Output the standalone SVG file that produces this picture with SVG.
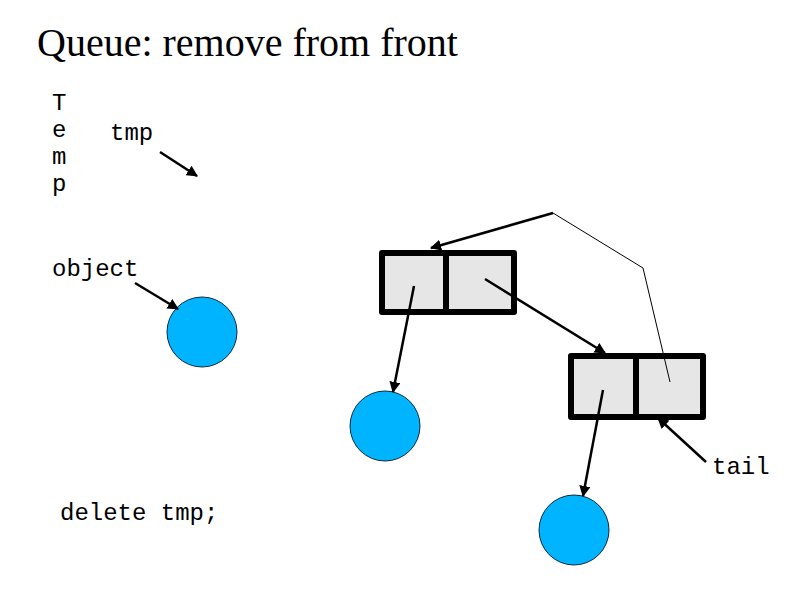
<svg xmlns="http://www.w3.org/2000/svg" width="794" height="595" viewBox="0 0 794 595">
<style>
.mono{font-family:"Liberation Mono","Courier New",monospace;font-size:24px;fill:#000}
.title{font-family:"Liberation Serif","Times New Roman",serif;font-size:40px;fill:#000}
.obj{fill:#00b4ff;stroke:#0a2a40;stroke-width:1}
.box{fill:#e6e6e6;stroke:#000;stroke-width:6;stroke-linejoin:round}
.div{stroke:#000;stroke-width:6}
.ptr{stroke:#000;stroke-width:2.5;fill:none;marker-end:url(#ah)}
.thin{stroke:#000;stroke-width:1;fill:none}
</style>
<defs>
<marker id="ah" viewBox="0 0 10 10" refX="9" refY="5" markerWidth="4.5" markerHeight="4.5" orient="auto" markerUnits="strokeWidth">
<path d="M0,0 L10,5 L0,10 z" fill="#000"/>
</marker>
</defs>
<rect width="794" height="595" fill="#fff"/>
<text class="title" x="37" y="56">Queue: remove from front</text>
<g id="temp-label">
<text class="mono" x="52" y="110">T</text>
<text class="mono" x="52" y="137">e</text>
<text class="mono" x="52" y="164">m</text>
<text class="mono" x="52" y="191">p</text>
</g>
<g id="tmp-label"><text class="mono" x="110" y="140">tmp</text></g>
<g id="object-label"><text class="mono" x="52" y="276">object</text></g>
<g id="tail-label"><text class="mono" x="712" y="474">tail</text></g>
<g id="delete-label"><text class="mono" x="60" y="520">delete tmp;</text></g>
<g id="object1"><circle class="obj" cx="202" cy="332" r="35"/></g>
<g id="object2"><circle class="obj" cx="385" cy="426" r="35"/></g>
<g id="object3"><circle class="obj" cx="574" cy="530" r="35"/></g>
<g id="node1">
<rect class="box" x="382" y="253" width="132" height="59"/>
<line class="div" x1="446" y1="253" x2="446" y2="312"/>
</g>
<g id="node2">
<rect class="box" x="571" y="356" width="132" height="61"/>
<line class="div" x1="636" y1="356" x2="636" y2="417"/>
</g>
<g id="connectors">
<line class="ptr" x1="160" y1="152" x2="197" y2="176"/>
<line class="ptr" x1="135" y1="283" x2="178" y2="309"/>
<line class="ptr" x1="414" y1="286" x2="393" y2="392"/>
<line class="ptr" x1="485" y1="279" x2="605" y2="353"/>
<line class="ptr" x1="603" y1="390" x2="583" y2="496"/>
<line class="ptr" x1="706" y1="462" x2="658" y2="418"/>
<polyline class="thin" points="670,382 643,268 553,213"/>
<line class="ptr" x1="553" y1="213" x2="431" y2="248"/>
</g>
</svg>
